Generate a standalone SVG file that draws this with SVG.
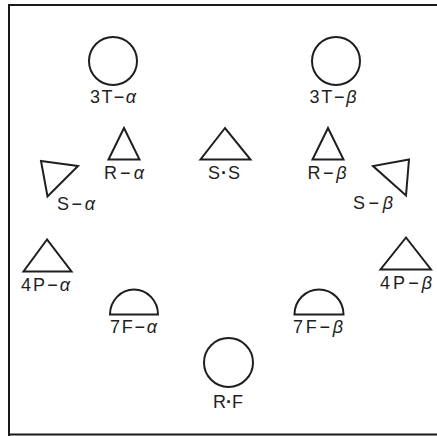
<svg xmlns="http://www.w3.org/2000/svg" width="437" height="436" viewBox="0 0 437 436">
<style>
.s{fill:none;stroke:#1e1e1e;stroke-width:2;stroke-linejoin:miter}
.f{fill:none;stroke:#1a1a1a;stroke-width:2}
text{font-family:"Liberation Sans",Arial,sans-serif;font-size:18px;fill:#1e1e1e;text-anchor:middle}
.g{font-style:italic}
.d{font-weight:bold}
</style>
<rect width="437" height="436" fill="#ffffff"/>
<g id="frame">
<path class="f" d="M437,5 H9 V436"/>
<path class="f" d="M9,434.5 H437"/>
</g>
<g id="n3Ta"><circle class="s" cx="113" cy="61" r="24"/><text x="113" y="103" textLength="46" lengthAdjust="spacing">3T−<tspan class="g">α</tspan></text></g>
<g id="n3Tb"><circle class="s" cx="336" cy="61" r="24"/><text x="333" y="103" textLength="47" lengthAdjust="spacing">3T−<tspan class="g">β</tspan></text></g>
<g id="nRa"><polygon class="s" points="124,128 108.5,159.5 139.5,159.5"/><text x="124" y="179" textLength="40" lengthAdjust="spacing">R−<tspan class="g">α</tspan></text></g>
<g id="nSS"><polygon class="s" points="225,128 200.5,159.5 250.5,159.5"/><text x="224" y="179" textLength="32" lengthAdjust="spacing">S<tspan class="d">·</tspan>S</text></g>
<g id="nRb"><polygon class="s" points="328,128 312.5,159.5 343.5,159.5"/><text x="327" y="179" textLength="39" lengthAdjust="spacing">R−<tspan class="g">β</tspan></text></g>
<g id="nSa"><polygon class="s" points="41,161 78,166 47.5,196.5"/><text x="76" y="210" textLength="38" lengthAdjust="spacing">S−<tspan class="g">α</tspan></text></g>
<g id="nSb"><polygon class="s" points="409,159.5 373,166 406,195.5"/><text x="373" y="209" textLength="40" lengthAdjust="spacing">S−<tspan class="g">β</tspan></text></g>
<g id="n4Pa"><polygon class="s" points="47,239.5 23.5,271.5 71.5,271.5"/><text x="45.5" y="291" textLength="49" lengthAdjust="spacing">4P−<tspan class="g">α</tspan></text></g>
<g id="n4Pb"><polygon class="s" points="406,237.5 380.5,269.5 431,269.5"/><text x="406" y="289" textLength="52" lengthAdjust="spacing">4P−<tspan class="g">β</tspan></text></g>
<g id="n7Fa"><path class="s" d="M110,314.5 A24,25 0 0 1 158,314.5 Z"/><text x="133.5" y="333" textLength="47" lengthAdjust="spacing">7F−<tspan class="g">α</tspan></text></g>
<g id="n7Fb"><path class="s" d="M294.5,314.5 A24.5,25 0 0 1 343.5,314.5 Z"/><text x="318" y="333" textLength="50" lengthAdjust="spacing">7F−<tspan class="g">β</tspan></text></g>
<g id="nRF"><circle class="s" cx="228.5" cy="362.5" r="24.5"/><text x="228" y="408" textLength="30" lengthAdjust="spacing">R<tspan class="d">·</tspan>F</text></g>
</svg>
